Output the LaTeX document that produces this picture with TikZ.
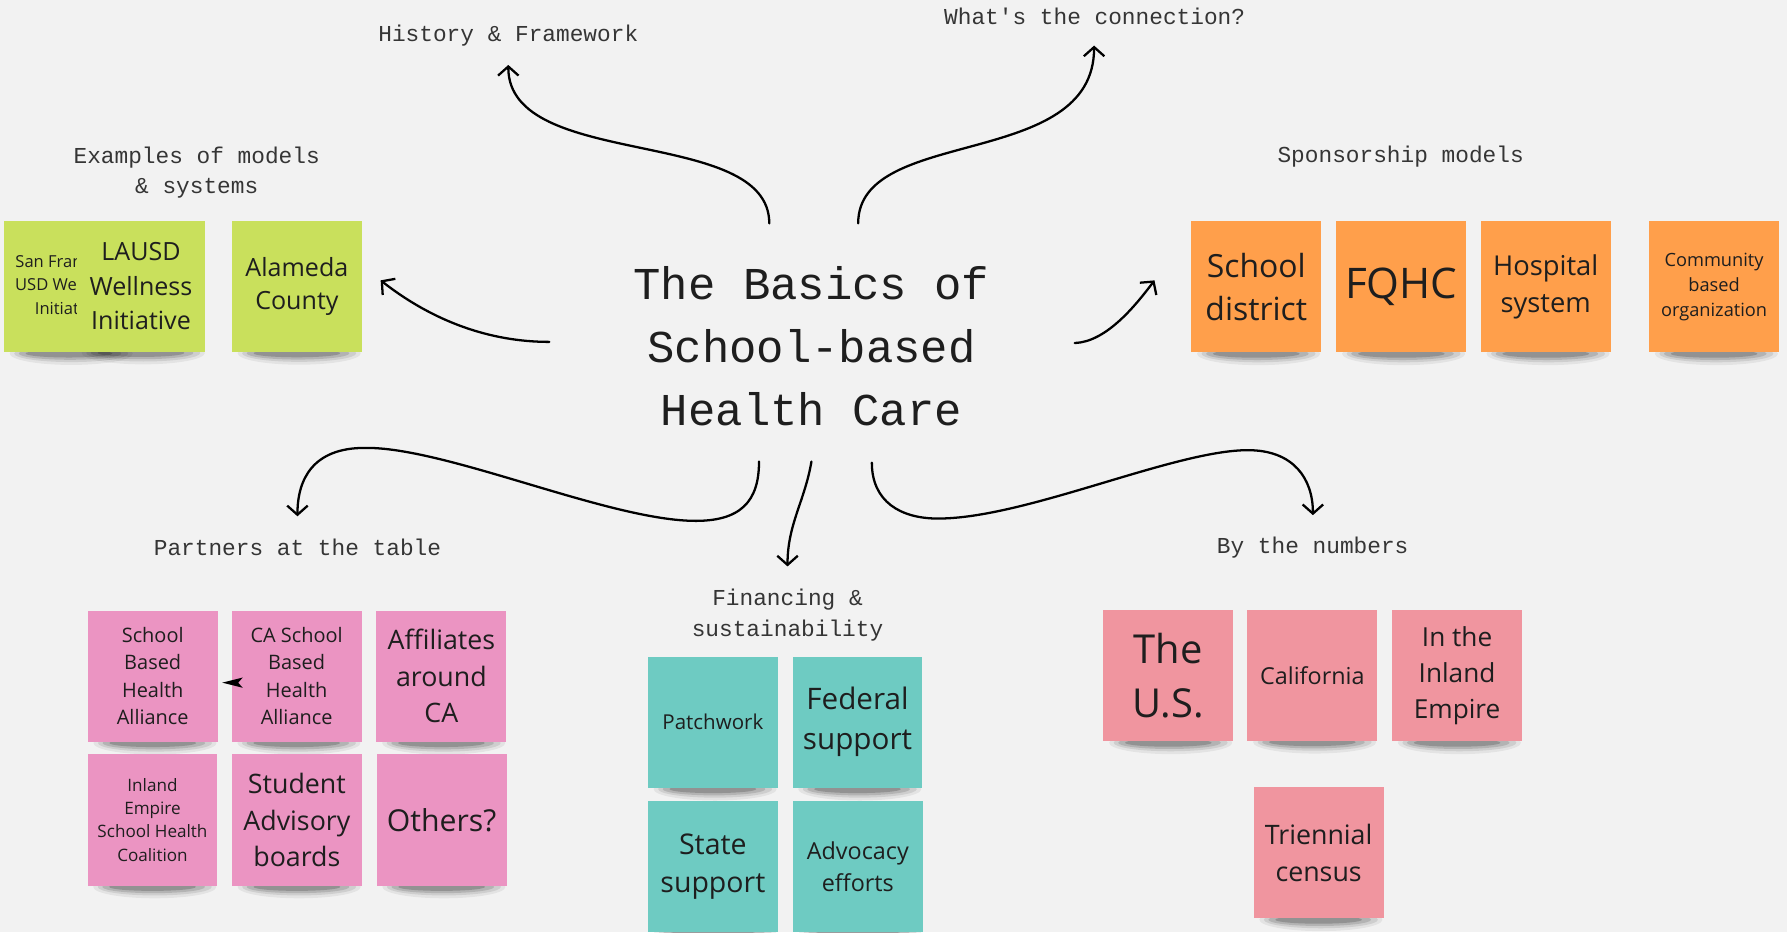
\documentclass[tikz,border=0pt]{standalone}
\usepackage{fontspec}
\setmainfont{Open Sans}
\setmonofont{Liberation Mono}
\usetikzlibrary{arrows.meta}
\pgfdeclarelayer{back}
\pgfdeclarelayer{shadowlayer}
\pgfsetlayers{back,shadowlayer,main}
\definecolor{bgc}{HTML}{F2F2F2}
\definecolor{greenn}{HTML}{C9E05C}
\definecolor{orangen}{HTML}{FF9F4B}
\definecolor{pinkn}{HTML}{EB94C2}
\definecolor{tealn}{HTML}{6ECBC2}
\definecolor{salmonn}{HTML}{F0959F}
\definecolor{ink}{HTML}{1E1E1E}
\newcommand{\fs}[2]{\fontsize{#1}{#2}\selectfont}
\begin{document}
\begin{tikzpicture}[x=1pt,y=-1pt,
  note/.style={minimum width=114pt, minimum height=115pt, inner sep=0pt, align=center, text=ink},
  lab/.style={font=\ttfamily\fs{20}{27}, text=ink!90, align=center, inner sep=0pt},
  conn/.style={line width=2pt, line cap=round, -{Straight Barb[length=8pt,width=18pt]}}]
\useasboundingbox (0,0) rectangle (1568,818);
\begin{pgfonlayer}{back}
\fill[bgc] (0,0) rectangle (1568,818);
\end{pgfonlayer}

% title
\node[align=center, text=ink, font=\ttfamily\fs{40}{55.4}, inner sep=0pt] (title) at (712,304) {The Basics of\\School-based\\Health Care};

% branch labels
\node[lab] (hist) at (446,31.5) {History \& Framework};
\node[lab] (connq) at (960.5,14.6) {What's the connection?};
\node[lab] (exam) at (172.6,151.5) {Examples of models\\\& systems};
\node[lab] (spon) at (1229,137.5) {Sponsorship models};
\node[lab] (part) at (261,480) {Partners at the table};
\node[lab] (fin) at (691,540) {Financing \&\\sustainability};
\node[lab] (numb) at (1151.8,480.2) {By the numbers};

% green notes
\node[note, fill=greenn, font=\fs{14.5}{20.5}] (sf) at (60.5,251.5) {};
\begin{scope}
\clip (3,190) rectangle (67,312);
\node[align=center, text=ink, font=\fs{14.5}{20.5}, inner sep=0pt] (sftext) at (59.5,250) {San Francisco\\USD Wellness\\Initiative};
\end{scope}
\node[note, fill=greenn, minimum width=113pt, font=\fs{22}{30}] (lausd) at (123.7,251) {LAUSD\\Wellness\\Initiative};
\node[note, fill=greenn, font=\fs{22}{29.5}] (alam) at (260.5,251.3) {Alameda\\County};

% orange notes
\node[note, fill=orangen, font=\fs{28}{38}] (sd) at (1102.3,251.7) {School\\district};
\node[note, fill=orangen, font=\fs{37}{44}] (fqhc) at (1229.6,251.7) {FQHC};
\node[note, fill=orangen, font=\fs{24}{32}] (hosp) at (1356.3,251.7) {Hospital\\system};
\node[note, fill=orangen, font=\fs{16}{22}] (cbo) at (1504,251.7) {Community\\based\\organization};

% pink notes
\node[note, fill=pinkn, font=\fs{17.5}{24}] (sbha) at (134,593.3) {School\\Based\\Health\\Alliance};
\node[note, fill=pinkn, font=\fs{17.5}{24}] (cas) at (260.3,593.3) {CA School\\Based\\Health\\Alliance};
\node[note, fill=pinkn, font=\fs{23.5}{32}] (aff) at (387.3,593.3) {Affiliates\\around\\CA};
\node[note, fill=pinkn, font=\fs{15}{20.3}] (iesh) at (133.8,719.5) {Inland\\Empire\\School Health\\Coalition};
\node[note, fill=pinkn, font=\fs{23.5}{32}] (sab) at (260.5,719.5) {Student\\Advisory\\boards};
\node[note, fill=pinkn, font=\fs{26.5}{32}] (oth) at (387.5,719.5) {Others?};

% teal notes
\node[note, fill=tealn, font=\fs{18}{24}] (patch) at (625.5,633.7) {Patchwork};
\node[note, fill=tealn, font=\fs{26}{35}] (fed) at (752.4,633.7) {Federal\\support};
\node[note, fill=tealn, font=\fs{25}{33.6}] (state) at (625.5,760.6) {State\\support};
\node[note, fill=tealn, font=\fs{20.5}{28}] (adv) at (752.7,760.6) {Advocacy\\efforts};

% salmon notes
\node[note, fill=salmonn, font=\fs{35}{47.4}] (us) at (1025.2,593) {The\\U.S.};
\node[note, fill=salmonn, font=\fs{20.5}{28}] (cal) at (1151.5,592.5) {California};
\node[note, fill=salmonn, font=\fs{23}{31.4}] (ie) at (1278.5,593) {In the\\Inland\\Empire};
\node[note, fill=salmonn, font=\fs{23.5}{32}] (tri) at (1157,748.3) {Triennial\\census};

% shadows
\begin{pgfonlayer}{shadowlayer}
\foreach \n in {sf,lausd,alam,sd,fqhc,hosp,cbo,sbha,cas,aff,iesh,sab,oth,patch,fed,state,adv,us,cal,ie,tri}{
  \fill[black,opacity=0.06] ([yshift=-1pt,xshift=2pt]\n.south) ellipse [x radius=54pt, y radius=10pt];
  \fill[black,opacity=0.09] ([yshift=-1pt,xshift=2pt]\n.south) ellipse [x radius=50pt, y radius=7.5pt];
  \fill[black,opacity=0.13] ([yshift=-1pt,xshift=1pt]\n.south) ellipse [x radius=45pt, y radius=5.5pt];
  \fill[black,opacity=0.18] ([yshift=-1pt]\n.south) ellipse [x radius=38pt, y radius=3.5pt];
}
\end{pgfonlayer}

% small arrowhead between pink notes
\fill[black] (195,599) -- (213,594.5) -- (209,599) -- (213,603.5) -- cycle;

% connectors
\coordinate (hS) at (675,196); \coordinate (hE) at (446,57);
\coordinate (cS) at (753,196); \coordinate (cE) at (960,40);
\coordinate (eS) at (482,300); \coordinate (eE) at (334,246);
\coordinate (sS) at (943,301); \coordinate (sE) at (1013,246);
\coordinate (pS) at (666,405); \coordinate (pE) at (261,453);
\coordinate (fS) at (712,405); \coordinate (fE) at (691,497);
\coordinate (nS) at (765,406); \coordinate (nE) at (1152,452);

\draw[conn] (hS) .. controls (675,110) and (446,150) .. (hE);
\draw[conn] (cS) .. controls (753,110) and (960,150) .. (cE);
\draw[conn] (eS) .. controls (430,300) and (380,282) .. (eE);
\draw[conn] (sS) .. controls (970,300) and (995,270) .. (sE);
\draw[conn] (pS) .. controls (666,440) and (650,458) .. (607,457)
                 .. controls (530,455) and (390,392) .. (320,393)
                 .. controls (275,393) and (261,420) .. (pE);
\draw[conn] (fS) .. controls (706,440) and (691,460) .. (fE);
\draw[conn] (nS) .. controls (765,440) and (790,455) .. (823,455)
                 .. controls (900,455) and (1030,395) .. (1095,395)
                 .. controls (1135,395) and (1152,420) .. (nE);
\end{tikzpicture}
\end{document}
